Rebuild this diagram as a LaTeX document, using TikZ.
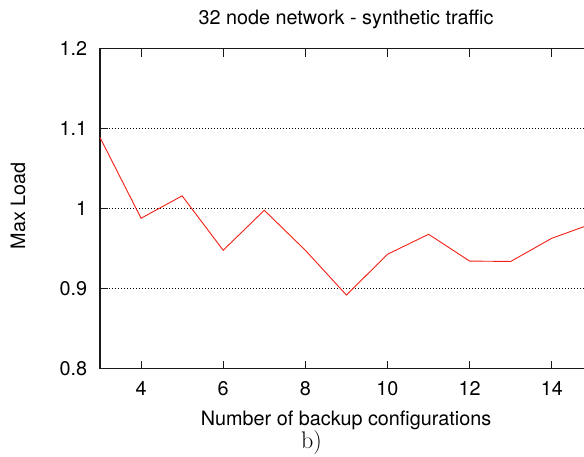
\documentclass[tikz,border=0pt]{standalone}
\usepackage{fontspec}
\newfontfamily\heros{TeX Gyre Heros}
\definecolor{curvered}{rgb}{0.95,0.12,0.08}
\begin{document}
\begin{tikzpicture}[x=1pt,y=1pt,
  lbl/.style={font=\heros\fontsize{19.8}{22}\selectfont, inner sep=0pt},
  frame/.style={line width=1.6pt, black!90},
  tickmark/.style={line width=1.1pt, black!90},
  gridline/.style={line width=0.9pt, black, dash pattern=on 1pt off 2pt},
  series/.style={line width=0.9pt, draw=curvered, line join=miter}]
\useasboundingbox (0,0) rectangle (584,456);
\clip (0,0) rectangle (584,456);

% title, axis labels and panel mark
\node[lbl, anchor=base] (title) at (346,431) {32 node network - synthetic traffic};
\node[lbl, anchor=base] (xlabel) at (346,31) {Number of backup configurations};
\node[lbl, anchor=base, rotate=90] (ylabel) at (25,250) {Max Load};
\node[font=\fontsize{24}{28}\selectfont, anchor=base, inner sep=0pt] (panel) at (311.5,8) {b)};

% data frame: x from 3 to 15, y from 0.8 to 1.2
\begin{scope}[x=41.07pt, y=800pt, shift={(-23.21pt,-552.67pt)}]
  \coordinate (ll) at (3,0.8);
  \coordinate (ul) at (3,1.2);
  \coordinate (lr) at (15,0.8);
  \coordinate (ur) at (15,1.2);

  % horizontal grid
  \foreach \v in {0.9,1.0,1.1}
    \draw[gridline] (3,\v) -- (15,\v);

  % y ticks and labels
  \foreach \v/\t in {0.8/0.8,0.9/0.9,1.0/1,1.1/1.1,1.2/1.2} {
    \draw[tickmark] (3,\v) -- ++(8pt,0);
    \node[lbl, anchor=east, xshift=-12.6pt] (ytick\t) at (3,\v) {\t};
  }

  % x ticks (bottom and top) and labels
  \foreach \k in {4,6,8,10,12,14} {
    \draw[tickmark] (\k,0.8) -- ++(0,8pt);
    \draw[tickmark] (\k,1.2) -- ++(0,-8pt);
    \node[lbl, anchor=base, yshift=-27pt] (xtick\k) at (\k,0.8) {\k};
  }

  % frame
  \draw[frame] (lr) -- (ll) -- (ul) -- (ur);

  % measured maximum load
  \foreach \n/\v in {3/1.089,4/0.988,5/1.016,6/0.948,7/0.998,8/0.948,
                     9/0.892,10/0.943,11/0.968,12/0.9345,13/0.934,14/0.963,15/0.9815}
    \coordinate (p\n) at (\n,\v);
  \draw[series] (p3) -- (p4) -- (p5) -- (p6) -- (p7) -- (p8) -- (p9)
    -- (p10) -- (p11) -- (p12) -- (p13) -- (p14) -- (p15);
\end{scope}
\end{tikzpicture}
\end{document}
